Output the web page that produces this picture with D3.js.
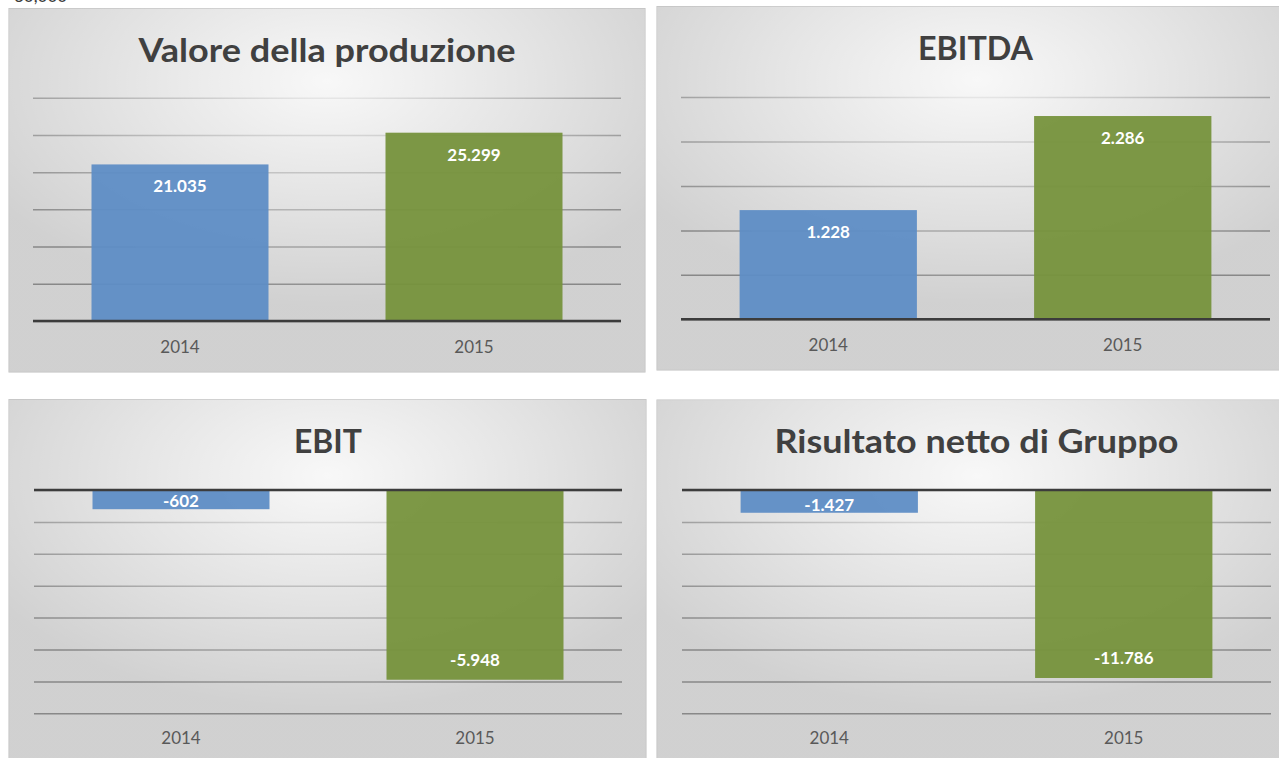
<!DOCTYPE html>
<html>
<head>
<meta charset="utf-8">
<script src="https://cdn.jsdelivr.net/npm/d3@7"></script>
<style>
    body { margin: 0; background: #ffffff; }
    svg { display: block; font-family: Lato, "Open Sans", sans-serif; }
</style>
</head>
<body>
<div id="chart"></div>
<script>
// data (values in thousands of euro, Italian format)
const years = ["2014", "2015"];
const titles = ["Valore della produzione", "EBITDA", "EBIT", "Risultato netto di Gruppo"];
const valoreProduzione = [21035, 25299];
const ebitda = [1228, 2286];
const ebit = [-602, -5948];
const risultatoNetto = [-1427, -11786];
const valoreTicks = [0, 5000, 10000, 15000, 20000, 25000, 30000];
const ebitdaTicks = [0, 500, 1000, 1500, 2000, 2500];
const ebitTicks = [-7000, -6000, -5000, -4000, -3000, -2000, -1000, 0];
const risultatoTicks = [-14000, -12000, -10000, -8000, -6000, -4000, -2000, 0];
const strayLabel = "30,000";

const width = 1279, height = 758;
const barColors = ["#5e8dc5", "#76923c"];

const it = d3.formatLocale({decimal: ",", thousands: ".", grouping: [3], currency: ["€", ""], minus: "-"});
const fmt = it.format(",d");

// layout of the four panels
const panels = [
    {title: titles[0], values: valoreProduzione, ticks: valoreTicks,
        box: [9, 8.5, 636, 363.5], xr: [33, 621], yr: [321, 97.7], titleY: 62, titleW: 377, labelY: 353},
    {title: titles[1], values: ebitda, ticks: ebitdaTicks,
        box: [657, 6.5, 640, 363.5], xr: [681, 1270], yr: [319.3, 97], titleY: 60, titleW: 115, labelY: 351},
    {title: titles[2], values: ebit, ticks: ebitTicks,
        box: [9, 399.5, 637, 380], xr: [34, 622], yr: [713.3, 490], titleY: 452.7, titleW: 68, labelY: 744},
    {title: titles[3], values: risultatoNetto, ticks: risultatoTicks,
        box: [657, 400, 640, 380], xr: [682, 1271], yr: [713.3, 490], titleY: 453, titleW: 404, labelY: 744}
];

const svg = d3.select("#chart").append("svg")
    .attr("width", width)
    .attr("height", height);

// white glow laid over background and gridlines
const defs = svg.append("defs");
const glow = defs.append("radialGradient")
    .attr("id", "glow")
    .attr("cx", 0.5).attr("cy", 0.2).attr("r", 0.62);
glow.append("stop").attr("offset", 0).attr("stop-color", "#fff").attr("stop-opacity", 0.88);
glow.append("stop").attr("offset", 0.5).attr("stop-color", "#fff").attr("stop-opacity", 0.55);
glow.append("stop").attr("offset", 1).attr("stop-color", "#fff").attr("stop-opacity", 0.2);

// cut-off label from the page above (only its lower edge shows)
svg.append("text")
    .attr("x", 14).attr("y", 2)
    .attr("font-size", 17)
    .attr("fill", "#3a3a3a")
    .text(strayLabel);

panels.forEach(function (p) {
    let g = svg.append("g");

    let x = d3.scaleBand()
        .domain(years)
        .range(p.xr)
        .paddingInner(0.398)
        .paddingOuter(0.199);

    let y = d3.scaleLinear()
        .domain(d3.extent(p.ticks))
        .range(p.yr);

    // panel background
    g.append("rect")
        .attr("x", p.box[0]).attr("y", p.box[1])
        .attr("width", p.box[2]).attr("height", p.box[3])
        .attr("fill", "#c5c5c5")
        .attr("stroke", "#bdbdbd");

    // gridlines
    let grid = g.append("g")
        .attr("transform", "translate(" + p.xr[0] + ",0)")
        .call(d3.axisLeft(y).tickValues(p.ticks).tickSize(-(p.xr[1] - p.xr[0])).tickFormat(""));
    grid.select(".domain").remove();
    grid.selectAll(".tick line")
        .attr("stroke", "#6a6a6a")
        .attr("stroke-width", 1.5);

    g.append("rect")
        .attr("x", p.box[0]).attr("y", p.box[1])
        .attr("width", p.box[2]).attr("height", p.box[3])
        .attr("fill", "url(#glow)");

    // title
    g.append("text")
        .attr("x", (p.xr[0] + p.xr[1]) / 2)
        .attr("y", p.titleY)
        .attr("text-anchor", "middle")
        .attr("font-size", 32)
        .attr("font-weight", 700)
        .attr("fill", "#404040")
        .attr("textLength", p.titleW)
        .attr("lengthAdjust", "spacingAndGlyphs")
        .text(p.title);

    // bars
    g.selectAll(".bar")
        .data(p.values)
        .enter().append("rect")
        .attr("class", "bar")
        .attr("x", (d, i) => x(years[i]))
        .attr("width", x.bandwidth())
        .attr("y", d => Math.min(y(0), y(d)))
        .attr("height", d => Math.abs(y(d) - y(0)))
        .attr("fill", (d, i) => barColors[i])
        .attr("fill-opacity", 0.95);

    // zero line
    g.append("line")
        .attr("x1", p.xr[0]).attr("x2", p.xr[1])
        .attr("y1", y(0)).attr("y2", y(0))
        .attr("stroke", "#3c3c3c")
        .attr("stroke-width", 2.6);

    // value labels inside bar end
    g.selectAll(".val")
        .data(p.values)
        .enter().append("text")
        .attr("class", "val")
        .attr("x", (d, i) => x(years[i]) + x.bandwidth() / 2)
        .attr("y", function (d) {
            if (d >= 0) return y(d) + 28;
            let h = y(d) - y(0);
            return h < 30 ? y(d) - 2 : y(d) - 13.5;
        })
        .attr("text-anchor", "middle")
        .attr("font-size", 17)
        .attr("font-weight", 700)
        .attr("fill", "#ffffff")
        .text(d => fmt(d));

    // category axis
    let xAxis = g.append("g")
        .attr("transform", "translate(0," + p.labelY + ")")
        .call(d3.axisBottom(x).tickSize(0));
    xAxis.select(".domain").remove();
    xAxis.selectAll("text")
        .attr("y", 0)
        .attr("dy", null)
        .attr("font-family", "Lato, 'Open Sans', sans-serif")
        .attr("font-size", 17)
        .attr("fill", "#595959");
});
</script>
</body>
</html>
